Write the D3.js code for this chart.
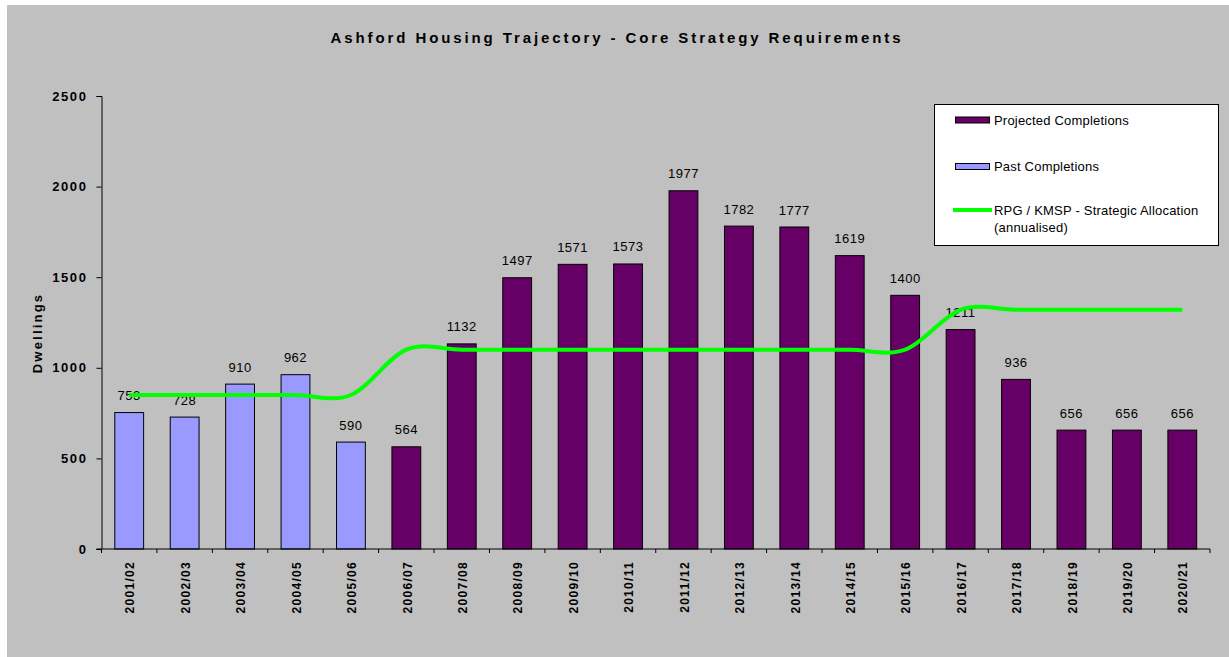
<!DOCTYPE html>
<html>
<head>
<meta charset="utf-8">
<script src="https://cdn.jsdelivr.net/npm/d3@7"></script>
<style>
  body { margin: 0; background: #fff; }
  svg { display: block; font-family: Arial, "Liberation Sans", sans-serif; }
  .title { font-size: 15px; font-weight: bold; letter-spacing: 2.9px; }
  .label { font-size: 13px; font-weight: bold; letter-spacing: 2.2px; }
  .ytick text { font-size: 13px; font-weight: bold; letter-spacing: 1.6px; }
  .xtick text { font-size: 12px; font-weight: bold; letter-spacing: 1.3px; }
  .value { font-size: 13px; letter-spacing: 0.5px; }
  .legend text { font-size: 13px; letter-spacing: 0.2px; }
</style>
</head>
<body>
<svg width="1229" height="657"></svg>
<script>
const years = ['2001/02', '2002/03', '2003/04', '2004/05', '2005/06', '2006/07', '2007/08',
  '2008/09', '2009/10', '2010/11', '2011/12', '2012/13', '2013/14', '2014/15', '2015/16',
  '2016/17', '2017/18', '2018/19', '2019/20', '2020/21'];

const completions = [753, 728, 910, 962, 590, 564, 1132, 1497, 1571, 1573, 1977, 1782,
  1777, 1619, 1400, 1211, 936, 656, 656, 656];

const status = ['past', 'past', 'past', 'past', 'past', 'projected', 'projected', 'projected',
  'projected', 'projected', 'projected', 'projected', 'projected', 'projected', 'projected',
  'projected', 'projected', 'projected', 'projected', 'projected'];

const allocation = [850, 850, 850, 850, 850, 1100, 1100, 1100, 1100, 1100, 1100, 1100, 1100,
  1100, 1100, 1320, 1320, 1320, 1320, 1320];

const yTicks = [0, 500, 1000, 1500, 2000, 2500];

const legendItems = [
  { name: 'Projected Completions', type: 'projected' },
  { name: 'Past Completions', type: 'past' },
  { name: 'RPG / KMSP - Strategic Allocation', sub: '(annualised)', type: 'line' }
];

const colors = { past: '#9999ff', projected: '#660066', line: '#00ff00' };

const svg = d3.select('svg');

// grey chart area
svg.append('rect')
  .attr('x', 7)
  .attr('y', 5)
  .attr('width', 1229 - 7)
  .attr('height', 657 - 5)
  .attr('fill', '#c0c0c0');

const plotLeft = 101.5;
const plotRight = 1210;
const plotTop = 96;
const plotBottom = 549;

const xScale = d3.scaleBand()
  .range([plotLeft, plotRight])
  .domain(years)
  .paddingInner(0.48)
  .paddingOuter(0.24);

const yScale = d3.scaleLinear()
  .range([plotBottom, plotTop])
  .domain([0, 2500]);

const data = years.map((y, i) => ({
  year: y,
  value: completions[i],
  type: status[i],
  target: allocation[i]
}));

// bars
svg.append('g')
  .selectAll('rect')
  .data(data)
  .enter()
  .append('rect')
  .attr('x', (d) => xScale(d.year))
  .attr('y', (d) => yScale(d.value))
  .attr('width', xScale.bandwidth())
  .attr('height', (d) => plotBottom - yScale(d.value))
  .attr('fill', (d) => colors[d.type])
  .attr('stroke', '#000')
  .attr('stroke-width', 1);

// value labels
svg.append('g')
  .selectAll('text')
  .data(data)
  .enter()
  .append('text')
  .attr('class', 'value')
  .attr('x', (d) => xScale(d.year) + xScale.bandwidth() / 2)
  .attr('y', (d) => yScale(d.value) - 12.5)
  .attr('text-anchor', 'middle')
  .text((d) => d.value);

// y axis
svg.append('g')
  .attr('class', 'ytick')
  .attr('transform', `translate(${plotLeft}, 0)`)
  .call(d3.axisLeft(yScale).tickValues(yTicks).tickFormat(d3.format('d')).tickSize(5).tickPadding(9))
  .call((g) => g.selectAll('path, line').attr('stroke', '#000'))
  .call((g) => g.selectAll('text').attr('fill', '#000'));

// x axis, ticks between categories
const xAxis = svg.append('g')
  .attr('class', 'xtick')
  .attr('transform', `translate(0, ${plotBottom})`);

xAxis.append('line')
  .attr('x1', plotLeft - 5)
  .attr('x2', plotRight)
  .attr('stroke', '#000');

xAxis.selectAll('.tick')
  .data(years.concat(['end']))
  .enter()
  .append('line')
  .attr('class', 'tick')
  .attr('x1', (d, i) => plotLeft + xScale.step() * i)
  .attr('x2', (d, i) => plotLeft + xScale.step() * i)
  .attr('y1', 0)
  .attr('y2', 4)
  .attr('stroke', '#000');

xAxis.selectAll('text')
  .data(years)
  .enter()
  .append('text')
  .attr('transform', (d) => `translate(${xScale(d) + xScale.bandwidth() / 2 + 1}, 12) rotate(-90)`)
  .attr('dy', '0.35em')
  .attr('text-anchor', 'end')
  .text((d) => d);

// allocation line
const line = d3.line()
  .x((d) => xScale(d.year) + xScale.bandwidth() / 2)
  .y((d) => yScale(d.target))
  .curve(d3.curveCardinal.tension(0));

svg.append('path')
  .datum(data)
  .attr('d', line)
  .attr('fill', 'none')
  .attr('stroke', colors.line)
  .attr('stroke-width', 4);

// titles
svg.append('text')
  .attr('class', 'title')
  .attr('x', 617)
  .attr('y', 43)
  .attr('text-anchor', 'middle')
  .text('Ashford Housing Trajectory - Core Strategy Requirements');

svg.append('text')
  .attr('class', 'label')
  .attr('transform', 'translate(42, 333) rotate(-90)')
  .attr('text-anchor', 'middle')
  .text('Dwellings');

// legend
const legend = svg.append('g')
  .attr('class', 'legend');

legend.append('rect')
  .attr('x', 934.5)
  .attr('y', 104.5)
  .attr('width', 284)
  .attr('height', 141)
  .attr('fill', '#fff')
  .attr('stroke', '#000');

const rowY = [120, 166.5, 210];

legendItems.forEach((item, i) => {
  if (item.type === 'line') {
    legend.append('line')
      .attr('x1', 953)
      .attr('x2', 992)
      .attr('y1', rowY[i])
      .attr('y2', rowY[i])
      .attr('stroke', colors.line)
      .attr('stroke-width', 4);
  } else {
    legend.append('rect')
      .attr('x', 955.5)
      .attr('y', rowY[i] - 3)
      .attr('width', 34)
      .attr('height', 6)
      .attr('fill', colors[item.type])
      .attr('stroke', '#000');
  }
  legend.append('text')
    .attr('x', 994)
    .attr('y', rowY[i] + 4.5)
    .text(item.name);
  if (item.sub) {
    legend.append('text')
      .attr('x', 994)
      .attr('y', rowY[i] + 22)
      .text(item.sub);
  }
});
</script>
</body>
</html>
